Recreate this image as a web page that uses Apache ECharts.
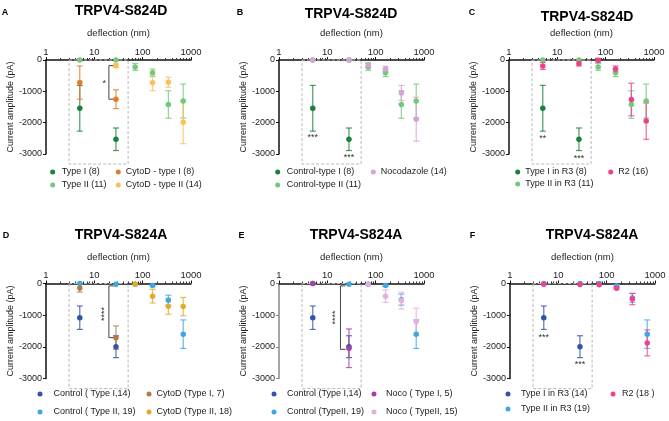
<!DOCTYPE html>
<html>
<head>
<meta charset="utf-8">
<script src="https://cdn.jsdelivr.net/npm/echarts@6/dist/echarts.min.js"></script>
<style>
html, body { margin: 0; padding: 0; background: #fff; }
#chart { width: 669px; height: 421px; }
</style>
</head>
<body>
<div id="chart"></div>
<script>
// deflection steps (nm), shared by every panel
const deflection = [5, 28, 70, 160, 340, 690];

// A / B / C  (TRPV4-S824D)
const typeI8 = [-1540, -2530, null, null, null, null];
const typeI8Err = [730, 360, null, null, null, null];
const typeII11 = [0, 0, -220, -410, -1420, -1310];
const typeII11Err = [0, 0, 110, 120, 440, 540];
const cytoTypeI8 = [-720, -1250, null, null, null, null];
const cytoTypeI8Err = [530, 300, null, null, null, null];
const cytoTypeII14 = [null, -180, null, -730, -710, -1990];
const cytoTypeII14Err = [null, 60, null, 250, 160, 680];
const noco14 = [0, 0, -160, -285, -1050, -1890];
const noco14Err = [0, 0, 75, 85, 240, 700];
const r2n16 = [-190, -115, -10, -285, -1260, -1950];
const r2n16Err = [110, 75, 60, 95, 520, 580];

// D / E / F  (TRPV4-S824A)
const ctrlTypeI14 = [-1080, -1995, null, null, null, null];
const ctrlTypeI14Err = [370, 345, null, null, null, null];
const ctrlTypeII19 = [0, -20, -20, -65, -530, -1600];
const ctrlTypeII19Err = [0, 0, 0, 20, 160, 450];
const cytoTypeI7 = [-140, -1710, null, null, null, null];
const cytoTypeI7Err = [130, 370, null, null, null, null];
const cytoTypeII18 = [null, null, -20, -400, -720, -730];
const cytoTypeII18Err = [null, null, 0, 215, 250, 290];
const ctrlTypeII19e = [0, -20, -20, -65, -510, -1600];
const ctrlTypeII19eErr = [0, 0, 0, 20, 175, 450];
const nocoTypeI5 = [0, -2045, null, null, null, null];
const nocoTypeI5Err = [0, 610, null, null, null, null];
const nocoTypeII15 = [null, null, -20, -400, -540, -1200];
const nocoTypeII15Err = [null, null, 0, 200, 265, 420];
const r3TypeII19 = [0, 0, 0, -75, -455, -1600];
const r3TypeII19Err = [0, 0, 0, 40, 140, 450];
const r2n18 = [-20, -30, -40, -150, -490, -1875];
const r2n18Err = [0, 0, 0, 30, 180, 410];

const FONT = 'Liberation Sans, Arial, sans-serif';

const panels = [
  {
    letter: 'A', title: 'TRPV4-S824D', letterPos: [5, 12.5], titlePos: [121, 11.5],
    grid: { left: 46, top: 60, width: 145, height: 94 }, nameGap: 22,
    groups: [
      { name: 'Type I (8)', mean: typeI8, err: typeI8Err, color: '#1b7f3e' },
      { name: 'Type II (11)', mean: typeII11, err: typeII11Err, color: '#74c87a' },
      { name: 'CytoD - type I (8)', mean: cytoTypeI8, err: cytoTypeI8Err, color: '#e57b24' },
      { name: 'CytoD - type II (14)', mean: cytoTypeII14, err: cytoTypeII14Err, color: '#fdbf5a' }
    ],
    legends: [
      { x: 52.7, y: 167, pad: 1.5, gap: 3, idx: [0, 1] },
      { x: 118.3, y: 167, pad: 0, gap: 3, idx: [2, 3] }
    ],
    bracket: [20, -180, -1250],
    notes: [[16, -735, '*', 0]]
  },
  {
    letter: 'B', title: 'TRPV4-S824D', letterPos: [240, 13], titlePos: [351, 14],
    grid: { left: 279, top: 60, width: 145, height: 94 }, nameGap: 22,
    groups: [
      { name: 'Control-type I (8)', mean: typeI8, err: typeI8Err, color: '#1b7f3e' },
      { name: 'Control-type II (11)', mean: typeII11, err: typeII11Err, color: '#74c87a' },
      { name: 'Nocodazole (14)', mean: noco14, err: noco14Err, color: '#d9a2d6' }
    ],
    legends: [
      { x: 277.7, y: 167, pad: 1.5, gap: 3, idx: [0, 1] },
      { x: 373.3, y: 167, pad: 0, gap: 3, idx: [2] }
    ],
    notes: [[5, -2480, '***', 0], [28, -3120, '***', 0]]
  },
  {
    letter: 'C', title: 'TRPV4-S824D', letterPos: [472, 13], titlePos: [587, 17.5],
    grid: { left: 509, top: 60, width: 145, height: 94 }, nameGap: 22,
    groups: [
      { name: 'Type I in R3 (8)', mean: typeI8, err: typeI8Err, color: '#1b7f3e' },
      { name: 'Type II in R3 (11)', mean: typeII11, err: typeII11Err, color: '#74c87a' },
      { name: 'R2 (16)', mean: r2n16, err: r2n16Err, color: '#ee3f8c' }
    ],
    legends: [
      { x: 517.7, y: 167, pad: 0, gap: 2, idx: [0, 1] },
      { x: 610.7, y: 167, pad: 0, gap: 2, idx: [2] }
    ],
    notes: [[5, -2500, '**', 0], [28, -3150, '***', 0]]
  },
  {
    letter: 'D', title: 'TRPV4-S824A', letterPos: [6, 236], titlePos: [121, 235],
    grid: { left: 46, top: 283.5, width: 145, height: 95 }, nameGap: 21,
    groups: [
      { name: 'Control ( Type I,14)', mean: ctrlTypeI14, err: ctrlTypeI14Err, color: '#3153a9' },
      { name: 'Control ( Type II, 19)', mean: ctrlTypeII19, err: ctrlTypeII19Err, color: '#42a5e6' },
      { name: 'CytoD (Type I, 7)', mean: cytoTypeI7, err: cytoTypeI7Err, color: '#b27a45' },
      { name: 'CytoD (Type II, 18)', mean: cytoTypeII18, err: cytoTypeII18Err, color: '#e3ac28' }
    ],
    legends: [
      { x: 40, y: 389, pad: 6, gap: 8, idx: [0, 1] },
      { x: 149, y: 389, pad: 0, gap: 8, idx: [2, 3] }
    ],
    bracket: [20, -75, -1710],
    notes: [[16, -960, '****', 90]]
  },
  {
    letter: 'E', title: 'TRPV4-S824A', letterPos: [241.5, 236], titlePos: [356, 235],
    grid: { left: 279, top: 283.5, width: 145, height: 95 }, nameGap: 21, yLine: '#888',
    groups: [
      { name: 'Control (Type I,14)', mean: ctrlTypeI14, err: ctrlTypeI14Err, color: '#3153a9' },
      { name: 'Control (TypeII, 19)', mean: ctrlTypeII19e, err: ctrlTypeII19eErr, color: '#42a5e6' },
      { name: 'Noco ( Type I, 5)', mean: nocoTypeI5, err: nocoTypeI5Err, color: '#a93ea3' },
      { name: 'Noco ( TypeII, 15)', mean: nocoTypeII15, err: nocoTypeII15Err, color: '#e3b0dc' }
    ],
    legends: [
      { x: 274, y: 389, pad: 5.5, gap: 8, idx: [0, 1] },
      { x: 374, y: 389, pad: 4.5, gap: 8, idx: [2, 3] }
    ],
    bracket: [18.7, -75, -2080],
    notes: [[15, -1070, '****', 90]]
  },
  {
    letter: 'F', title: 'TRPV4-S824A', letterPos: [472.5, 236], titlePos: [592, 235.5],
    grid: { left: 510, top: 283.5, width: 145, height: 95 }, nameGap: 21,
    groups: [
      { name: 'Type I in R3 (14)', mean: ctrlTypeI14, err: ctrlTypeI14Err, color: '#3153a9' },
      { name: 'Type II in R3 (19)', mean: r3TypeII19, err: r3TypeII19Err, color: '#42a5e6' },
      { name: 'R2 (18 )', mean: r2n18, err: r2n18Err, color: '#f0428f' }
    ],
    legends: [
      { x: 508, y: 389, pad: 5.5, gap: 5, idx: [0, 1] },
      { x: 613, y: 389, pad: 1.5, gap: 5, idx: [2] }
    ],
    notes: [[5, -1710, '***', 0], [28, -2560, '***', 0]]
  }
];

function errorBarItem(params, api) {
  const x = api.value(0), m = api.value(1), e = api.value(2);
  if (!e) return null;
  const top = api.coord([x, m + e]);
  const bot = api.coord([x, m - e]);
  const style = { stroke: api.visual('color'), lineWidth: 1.2, opacity: 0.8 };
  const cap = 3;
  return {
    type: 'group',
    children: [
      { type: 'line', shape: { x1: top[0], y1: top[1], x2: bot[0], y2: bot[1] }, style: style },
      { type: 'line', shape: { x1: top[0] - cap, y1: top[1], x2: top[0] + cap, y2: top[1] }, style: style },
      { type: 'line', shape: { x1: bot[0] - cap, y1: bot[1], x2: bot[0] + cap, y2: bot[1] }, style: style }
    ]
  };
}

function plain(v) { return String(v); }

const option = {
  animation: false,
  backgroundColor: '#fff',
  textStyle: { fontFamily: FONT },
  grid: [], xAxis: [], yAxis: [], legend: [], series: [], graphic: []
};

panels.forEach(function (p, i) {
  option.grid.push(p.grid);
  option.xAxis.push({
    gridIndex: i, type: 'log', logBase: 10, min: 1, max: 1000, position: 'top',
    name: 'deflection (nm)', nameLocation: 'middle', nameGap: p.nameGap,
    nameTextStyle: { fontSize: 9.5, color: '#222', fontFamily: FONT },
    axisLine: { onZero: false, lineStyle: { color: '#111', width: 1.5 } },
    axisTick: { length: 3, lineStyle: { color: '#111' } },
    minorTick: { show: true, splitNumber: 9, length: 2, lineStyle: { color: '#333' } },
    splitLine: { show: false },
    axisLabel: { fontSize: 9.5, color: '#222', margin: 3, fontFamily: FONT, formatter: plain }
  });
  option.yAxis.push({
    gridIndex: i, type: 'value', min: -3000, max: 0, interval: 1000,
    name: 'Current amplitude (pA)', nameLocation: 'middle', nameGap: 30,
    nameTextStyle: { fontSize: 9, color: '#222', fontFamily: FONT },
    axisLine: { show: true, lineStyle: { color: p.yLine || '#111', width: 1.5 } },
    axisTick: { show: true, length: 3, lineStyle: { color: p.yLine || '#111' } },
    splitLine: { show: false },
    axisLabel: { fontSize: 9, color: '#222', margin: 4, fontFamily: FONT, formatter: plain }
  });

  // dashed frame round the small deflections
  option.series.push({
    type: 'custom', xAxisIndex: i, yAxisIndex: i, silent: true, clip: false,
    data: [[3, 0, 50, -3320]],
    renderItem: function (params, api) {
      const a = api.coord([api.value(0), api.value(1)]);
      const b = api.coord([api.value(2), api.value(3)]);
      return { type: 'rect', shape: { x: a[0], y: a[1], width: b[0] - a[0], height: b[1] - a[1] },
        style: { fill: 'none', stroke: '#b8b8b8', lineWidth: 1, lineDash: [3, 2] } };
    }
  });

  p.groups.forEach(function (g) {
    const pts = [], bars = [];
    deflection.forEach(function (d, k) {
      if (g.mean[k] == null) return;
      pts.push([d, g.mean[k]]);
      bars.push([d, g.mean[k], g.err[k] || 0]);
    });
    option.series.push({
      type: 'custom', name: g.name, xAxisIndex: i, yAxisIndex: i, clip: false,
      itemStyle: { color: g.color }, data: bars, renderItem: errorBarItem,
      encode: { x: 0, y: 1 }
    });
    option.series.push({
      type: 'scatter', name: g.name, xAxisIndex: i, yAxisIndex: i,
      symbol: 'circle', symbolSize: 5.5, itemStyle: { color: g.color, opacity: 1 },
      data: pts
    });
  });

  if (p.bracket) {
    option.series.push({
      type: 'custom', xAxisIndex: i, yAxisIndex: i, silent: true, clip: false,
      data: [p.bracket],
      renderItem: function (params, api) {
        const t = api.coord([api.value(0), api.value(1)]);
        const b = api.coord([api.value(0), api.value(2)]);
        const st = { stroke: '#444', lineWidth: 1 };
        return { type: 'group', children: [
          { type: 'line', shape: { x1: t[0], y1: t[1], x2: b[0], y2: b[1] }, style: st },
          { type: 'line', shape: { x1: t[0], y1: t[1], x2: t[0] + 5, y2: t[1] }, style: st },
          { type: 'line', shape: { x1: b[0], y1: b[1], x2: b[0] + 5, y2: b[1] }, style: st }
        ] };
      }
    });
  }

  option.series.push({
    type: 'custom', xAxisIndex: i, yAxisIndex: i, silent: true, clip: false,
    data: p.notes.map(function (n) { return [n[0], n[1]]; }),
    renderItem: function (params, api) {
      const n = p.notes[params.dataIndex];
      const c = api.coord([api.value(0), api.value(1)]);
      return { type: 'text', x: c[0], y: c[1], rotation: n[3] * Math.PI / 180,
        style: { text: n[2], fontSize: 9, fontFamily: FONT, fill: '#333', align: 'center', verticalAlign: 'middle' } };
    }
  });

  p.legends.forEach(function (l) {
    option.legend.push({
      orient: 'vertical', left: l.x - 2.5, top: l.y, itemGap: l.gap,
      itemWidth: 5, itemHeight: 5, icon: 'circle', padding: 0,
      textStyle: { fontSize: 9, color: '#222', fontFamily: FONT, lineHeight: 10,
        padding: [0, 0, 0, l.pad] },
      data: l.idx.map(function (k) { return p.groups[k].name; })
    });
  });

  option.graphic.push({
    type: 'text', x: p.titlePos[0], y: p.titlePos[1], silent: true,
    style: { text: p.title, font: 'bold 14px ' + FONT, fill: '#000', align: 'center', verticalAlign: 'middle' }
  });
  option.graphic.push({
    type: 'text', x: p.letterPos[0], y: p.letterPos[1], silent: true,
    style: { text: p.letter, font: 'bold 9px ' + FONT, fill: '#000', align: 'center', verticalAlign: 'middle' }
  });
});

const chart = echarts.init(document.getElementById('chart'));
chart.setOption(option);
</script>
</body>
</html>
